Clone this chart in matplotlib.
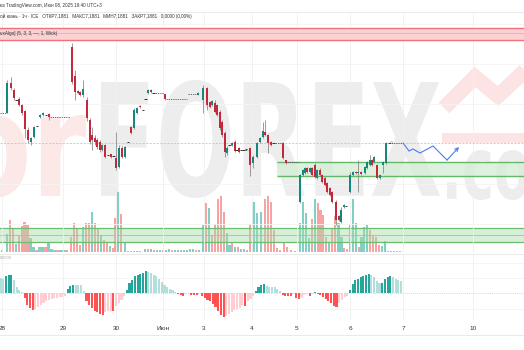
import numpy as np
import matplotlib
matplotlib.use('Agg')
import matplotlib.pyplot as plt
import matplotlib.transforms as mtransforms
from matplotlib.textpath import TextPath
from matplotlib.patches import PathPatch
from matplotlib.font_manager import FontProperties

plt.rcParams['font.family'] = ['Liberation Sans', 'DejaVu Sans']

W, H = 524, 350

# time axis: day labels and their positions on the chart's time scale
day_pos = [2, 63, 116, 163, 204, 252, 297, 350, 403, 473]
day_lab = ['28', '29', '30', 'Июн', '3', '4', '5', '6', '7', '10']

# hourly candles, prices in pips above 7.1800
candle_x = [7, 10.5, 14, 16.5, 19, 22, 25, 28, 31, 34,
            37, 40, 43, 46, 48.5, 72, 75, 77.5, 80, 83,
            87, 89.5, 92, 94.5, 97, 99.5, 102, 105, 108, 111,
            113.5, 116, 119, 122, 125, 128, 131, 134, 137, 139.5,
            143, 145.5, 148, 151, 153.5, 165, 198, 203, 207, 209.5,
            212, 214.5, 217, 219.5, 222, 224.5, 227, 229.5, 232, 234.5,
            236.5, 238.5, 241, 243.5, 246, 250, 253, 257, 259.5, 262.5,
            265, 268, 271, 273.5, 283, 286, 300, 303, 305, 307,
            309.5, 312, 314.5, 317, 319.5, 322, 324.5, 327, 329.5, 332,
            336, 338.5, 341, 343.5, 346, 350, 353, 355.5, 358, 360.5,
            365, 367, 369.5, 371.5, 373.5, 377, 379.5, 383, 386, 389]
candle_o = [111, 141, 134, 124, 125, 119, 113, 94, 82, 87,
            98, 107, 109, 109, 110, 177, 148, 133, 132, 129,
            124, 104, 89, 86, 84, 82, 74, 79, 69, 70,
            68, 66, 57, 76, 67, 82, 97, 96, 111, 118,
            114, 125, 131, 134, 131, 130, 129, 124, 136, 122,
            119, 121, 119, 112, 102, 91, 71, 79, 79, 82,
            74, 76, 74, 74, 75, 76, 61, 67, 82, 87,
            92, 89, 82, 81, 81, 64, 22, 49, 51, 56,
            52, 56, 59, 46, 54, 49, 46, 41, 36, 32,
            22, 8, 2, 17, 18, 32, 49, 52, 51, 52,
            51, 56, 59, 64, 62, 59, 46, 59, 61, 81]
candle_h = [144, 147, 136, 124, 127, 120, 114, 97, 87, 98,
            98, 110, 112, 109, 111, 181, 154, 134, 133, 144,
            127, 106, 97, 89, 86, 84, 80, 80, 69, 70,
            68, 92, 79, 78, 78, 82, 98, 116, 117, 119,
            114, 125, 135, 135, 131, 130, 132, 139, 137, 123,
            124, 124, 120, 114, 104, 93, 78, 79, 82, 84,
            74, 77, 74, 74, 75, 77, 69, 82, 87, 102,
            104, 90, 83, 81, 82, 64, 50, 55, 57, 57,
            57, 57, 61, 55, 56, 50, 47, 42, 37, 33,
            24, 9, 17, 20, 18, 52, 53, 53, 64, 53,
            58, 63, 69, 65, 68, 60, 50, 63, 82, 81]
candle_l = [111, 134, 124, 124, 118, 109, 86, 81, 79, 86,
            98, 106, 108, 109, 104, 140, 124, 130, 128, 127,
            103, 80, 74, 79, 75, 72, 73, 66, 69, 66,
            68, 54, 56, 66, 66, 82, 90, 95, 110, 116,
            114, 125, 130, 131, 131, 124, 129, 111, 114, 116,
            118, 111, 108, 94, 87, 67, 69, 79, 78, 72,
            74, 71, 74, 74, 75, 48, 56, 66, 81, 86,
            88, 71, 78, 81, 65, 60, 21, 48, 50, 51,
            51, 48, 46, 45, 48, 41, 38, 31, 28, 21,
            -1, 3, 1, 16, 18, 31, 48, 50, 32, 49,
            50, 55, 58, 58, 61, 45, 45, 51, 60, 81]
candle_c = [141, 136, 126, 124, 119, 111, 95, 84, 86, 97,
            98, 109, 111, 109, 107, 142, 132, 131, 129, 135,
            106, 82, 84, 82, 77, 74, 79, 67, 69, 67,
            68, 56, 76, 67, 77, 82, 91, 114, 116, 117,
            114, 125, 134, 132, 131, 125, 131, 136, 119, 117,
            123, 112, 109, 96, 89, 72, 76, 79, 81, 73,
            74, 72, 74, 74, 75, 59, 67, 81, 86, 93,
            89, 81, 79, 81, 66, 61, 49, 54, 56, 52,
            56, 49, 47, 54, 49, 42, 39, 32, 29, 22,
            4, 4, 14, 19, 18, 49, 52, 51, 52, 50,
            57, 62, 64, 59, 67, 46, 49, 62, 81, 81]

# stretches without trades (flat bars)
flat_x0 = [0, 50, 153, 166, 188, 241, 273, 287, 389]
flat_x1 = [6, 70, 164, 187, 197, 248, 282, 299, 403]
flat_lvl = [111, 107, 131, 125, 130, 74, 81, 62, 81]

last_price = 81
red_zone = (184, 191, 196)
green_zone = (48, 62)
green_zone_start = 277

# forecast path
fc_x = [403, 409, 413, 420, 433, 447, 459]
fc_y = [81, 73, 75, 71, 78, 64, 77]

# volume
vol_x = [2, 7, 10, 13, 16, 19, 22, 24.5, 27.5, 30.5,
         33.5, 36.5, 39.5, 42.5, 45.5, 48.5, 51.5, 54.5, 57.5, 60.5,
         63.5, 66.5, 71, 74, 77, 80, 83, 86, 89, 92,
         95, 98, 101, 104, 107, 110, 113, 115.5, 118, 121,
         125, 128, 131, 134, 137, 140, 145, 148, 151, 154,
         157, 160, 163, 166, 169, 172, 175, 178, 181, 184,
         187, 190, 193, 196, 199, 203, 206, 209, 212, 215,
         218, 221, 224, 227, 229.5, 232, 235, 238, 241, 244,
         247, 250, 253.5, 257, 261, 265, 268, 271, 274, 277,
         280, 284, 287, 291, 295, 300, 303, 306, 309, 312,
         315, 318, 320.5, 323, 326, 329, 332, 335, 338.5, 341.5,
         344, 347, 350, 353, 356, 359, 361.5, 364, 367, 370,
         373, 376, 379, 382, 385, 388, 391, 394, 397, 400]
vol_h = [2, 18, 32, 23, 8, 17, 26, 30, 27, 14,
         5, 2, 5, 5, 5, 9, 3, 2, 2, 2,
         2, 2, 15, 29, 23, 7, 25, 29, 29, 40,
         29, 24, 17, 12, 9, 6, 4, 34, 60, 38,
         9, 1, 1, 1, 1, 1, 3, 3, 3, 2,
         2, 2, 2, 2, 3, 2, 2, 2, 2, 2,
         2, 3, 3, 2, 2, 27, 49, 44, 17, 28,
         53, 56, 40, 19, 7, 9, 5, 5, 3, 3,
         2, 28, 50, 39, 40, 53, 56, 50, 22, 4,
         2, 9, 5, 2, 1, 29, 50, 39, 14, 33,
         53, 49, 42, 37, 15, 9, 23, 36, 29, 15,
         4, 3, 27, 53, 29, 5, 15, 25, 27, 22,
         17, 15, 7, 6, 11, 1, 1, 1, 1, 1]
vol_up = [1, 1, 0, 0, 1, 0, 0, 0, 0, 1,
          1, 0, 1, 1, 0, 1, 1, 1, 0, 1,
          1, 0, 0, 0, 0, 0, 1, 0, 0, 1,
          0, 0, 1, 0, 0, 1, 0, 0, 1, 0,
          1, 0, 0, 1, 1, 0, 1, 0, 1, 0,
          1, 1, 0, 1, 1, 0, 1, 1, 0, 1,
          1, 1, 1, 0, 1, 1, 0, 1, 0, 0,
          0, 0, 0, 1, 1, 0, 1, 0, 1, 1,
          0, 0, 1, 1, 1, 0, 0, 0, 0, 0,
          0, 0, 0, 0, 0, 1, 1, 1, 1, 0,
          1, 0, 0, 0, 0, 1, 0, 0, 1, 1,
          0, 0, 1, 1, 1, 0, 1, 1, 1, 0,
          0, 0, 0, 1, 1, 0, 0, 0, 0, 0]
vol_zone = (10, 17, 24)

# MACD histogram, units of 1e-5
macd_hist = [15, 14, 17, 18, 18.5, 13, 6, 3, 1, -5,
             -12, -15, -17, -16, -14, -12, -10, -8, -7, -6,
             -5, -4.5, -4, -3.5, -3, 4, 7, 8, 8, 7.8,
             7.6, 2, -8, -12, -15, -18, -19, -21, -21.5, -19,
             -18, -17.5, -18, -13, -10, -7, -3, 3, 10, 13,
             17, 18, 19, 20, 22, 21.5, 20, 18, 17, 14,
             11, 8, 6, 4, 3, 1, -1, -2, -3, -1,
             -0.9, -2, -2.2, -2.4, -1, -3, -5, -7, -8, -11,
             -14, -18, -22, -24, -23, -21, -19, -17, -16, -15,
             -12, -12.5, -8, -6, -3, 2, 6, 8, 9, 7,
             6, 5.8, 5.6, 4, 2, -2, -3, -3.2, -3.4, -1,
             -5, -6, -4, -2, -1, -3, -1, 1, -1, -2,
             -4, -6, -8, -10, -13, -14, -10, -7, -4, -3,
             3, 9, 13, 14, 16, 17, 18, 19, 18, 16,
             12, 10, 10.5, 14, 16, 17, 16, 14, 13, 12]

UP = '#14897b'
DOWN = '#c4283a'


def rect(top, bottom):
    return [0, 1 - bottom / H, 1, (bottom - top) / H]


fig = plt.figure(figsize=(W / 100, H / 100), dpi=100, facecolor='white')

# background layer for watermark and frame lines
bg = fig.add_axes([0, 0, 1, 1], zorder=0)
bg.set_xlim(0, W)
bg.set_ylim(H, 0)
bg.axis('off')


def word(text, x0, top, bottom, color, x1=None, stretch=None):
    fp = FontProperties(family='DejaVu Sans', weight='bold')
    tp = TextPath((0, 0), text, size=100, prop=fp)
    ext = tp.get_extents()
    sy = (bottom - top) / ext.height
    sx = (x1 - x0) / ext.width if x1 is not None else sy * stretch
    tr = (mtransforms.Affine2D().translate(-ext.x0, -ext.y0)
          .scale(sx, -sy).translate(x0, bottom)) + bg.transData
    bg.add_patch(PathPatch(tp, transform=tr, fc=color, ec='none'))


word('or', -40, 115, 198, '#fde8e8', x1=86)
word('FOREX', 101, 80, 198, '#ededed', x1=440)
word('.com', 447, 150, 200, '#ededed', stretch=0.62)
bg.plot([444, 475, 498, 545], [108, 77, 96, 52], color='#fde4e4', lw=11,
        solid_joinstyle='miter', solid_capstyle='butt')
bg.fill_between([442, W], 133, 143, color='#fde4e4', lw=0)
for yy in (12, 254, 335):
    bg.axhline(yy, color='#e6e6e6', lw=0.6)

# volume pane (shares area with price pane)
axv = fig.add_axes(rect(12, 252), zorder=1)
axv.set_xlim(0, W)
axv.set_ylim(0, 240)
axv.axis('off')
vx = np.array(vol_x)
vh = np.array(vol_h)
vu = np.array(vol_up) == 1
axv.bar(vx[vu], vh[vu], width=2.3, color='#84cfc5', zorder=2)
axv.bar(vx[~vu], vh[~vu], width=2.3, color='#f6a3a3', zorder=2)
axv.axhspan(vol_zone[0], vol_zone[2], color='#a8dba9', alpha=0.45, lw=0, zorder=3)
axv.axhline(vol_zone[0], color='#6abf6d', lw=0.9, zorder=3)
axv.axhline(vol_zone[2], color='#6abf6d', lw=0.9, zorder=3)
axv.axhline(vol_zone[1], color='#8fcf91', lw=0.6, zorder=3)

# price pane
ax = fig.add_axes(rect(12, 252), zorder=2)
ax.set_facecolor('none')
ax.set_xlim(0, W)
ax.set_ylim(224 - 252, 224 - 12)
ax.axis('off')
for d in day_pos:
    ax.axvline(d, color='#f0f0f0', lw=0.6, zorder=0)
for lvl in (0, 40, 120, 160, 200):
    ax.axhline(lvl, color='#f4f4f4', lw=0.6, zorder=0)

ax.axhspan(red_zone[0], red_zone[2], color='#fbd2d4', lw=0, zorder=1)
ax.axhline(red_zone[0], color='#f2707a', lw=1.0, zorder=1)
ax.axhline(red_zone[2], color='#f2707a', lw=1.0, zorder=1)
ax.axhline(red_zone[1], color='#f7a7ad', lw=0.6, zorder=1)

ax.fill_between([green_zone_start, W], green_zone[0], green_zone[1],
                color='#d6eed6', alpha=0.8, lw=0, zorder=1)
ax.hlines(green_zone, green_zone_start, W, color='#62b866', lw=1.0, zorder=1)

ax.axhline(last_price, color='#8fcfc5', lw=0.5, ls=(0, (3, 2)), zorder=1)
ax.hlines(flat_lvl, flat_x0, flat_x1, color='#555555', lw=0.6,
          linestyles=(0, (1.5, 1.2)), zorder=3)

cx = np.array(candle_x)
o = np.array(candle_o, float)
h = np.array(candle_h, float)
l = np.array(candle_l, float)
c = np.array(candle_c, float)
flat = (o == c) & (h == l)
up = (c >= o) & ~flat
dn = (c < o) & ~flat
ax.vlines(cx[~flat], l[~flat], h[~flat], color='#8c8c8c', lw=0.6, zorder=3)
bot = np.minimum(o, c)
bh = np.maximum(np.abs(c - o), 0.9)
ax.bar(cx[up], bh[up], bottom=bot[up], width=2.0, color=UP, zorder=4)
ax.bar(cx[dn], bh[dn], bottom=bot[dn], width=2.0, color=DOWN, zorder=4)
ax.hlines(o[flat], cx[flat] - 1.1, cx[flat] + 1.1, color='#333333', lw=0.7, zorder=4)

ax.plot(fc_x[:-1], fc_y[:-1], color='#4a7cf0', lw=0.8, zorder=5)
ax.annotate('', xy=(fc_x[-1], fc_y[-1]), xytext=(fc_x[-2], fc_y[-2]),
            arrowprops=dict(arrowstyle='->', color='#4a7cf0', lw=0.8,
                            shrinkA=0, shrinkB=0, mutation_scale=6), zorder=5)
ax.plot([cx[-1] + 2], [last_price + 1], 'o', ms=1.5, mfc='none', mec='#999999', mew=0.4)

# MACD pane
axm = fig.add_axes(rect(255, 320), zorder=2)
axm.set_facecolor('none')
axm.set_xlim(0, W)
axm.set_ylim(-27, 38)
for s in axm.spines.values():
    s.set_visible(False)
axm.set_yticks([])
for d in day_pos:
    axm.axvline(d, color='#f0f0f0', lw=0.6, zorder=0)
for lvl in (30, 15, -16):
    axm.axhline(lvl, color='#f4f4f4', lw=0.6, zorder=0)
axm.axhline(0, color='#c8c8c8', lw=0.6, ls=(0, (1, 1.5)), zorder=1)

mh = np.array(macd_hist, float)
prev = np.concatenate([[mh[0] + 1], mh[:-1]])
mcol = np.where(mh >= 0,
                np.where(prev < mh, '#26a69a', '#b2dfdb'),
                np.where(prev < mh, '#ffcdd2', '#ff5252'))
mx = np.linspace(0.5, 401, len(mh))
axm.bar(mx, mh, width=2.1, color=mcol, zorder=2)

axm.set_xticks(day_pos)
axm.set_xticklabels(day_lab, fontsize=4.6, color='#333333')
axm.tick_params(axis='x', length=0, pad=4.5)

# header texts
def px_text(x, y, s, **kw):
    fig.text(x / W, 1 - y / H, s, va='center', ha='left', **kw)


px_text(0, 5, 'ка TradingView.com, Июн 08, 2025 19:40 UTC+3', fontsize=3.3, color='#333333', zorder=6)
px_text(0, 16, 'ой юань · 1ч · ICE   ОТКР7,1881   МАКС7,1881   МИН7,1881   ЗАКР7,1881   0,0000 (0,00%)',
        fontsize=3.3, color='#333333', zorder=6)
px_text(0, 33, 'uxAlgo] (5, 3, 3, —, 1, Wick)', fontsize=3.3, color='#333333', zorder=6)
px_text(0, 258, '0,0008', fontsize=2.8, color='#a8a8a8', zorder=6)

fig.savefig('out.png', dpi=100, facecolor='white')
